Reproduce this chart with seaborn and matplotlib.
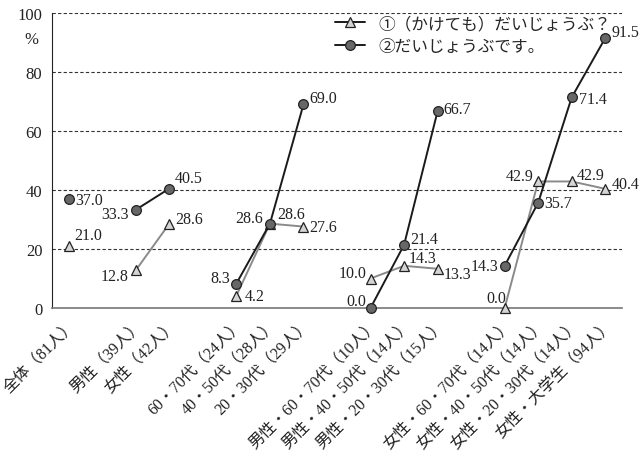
import numpy as np
import pandas as pd
import matplotlib
matplotlib.use("Agg")
import matplotlib.pyplot as plt
from matplotlib.lines import Line2D
import seaborn as sns

# categories (empty strings are the gaps between groups)
categories = ["全体（81人）", "", "男性（39人）", "女性（42人）", "",
              "60・70代（24人）", "40・50代（28人）", "20・30代（29人）", "",
              "男性・60・70代（10人）", "男性・40・50代（14人）", "男性・20・30代（15人）", "",
              "女性・60・70代（14人）", "女性・40・50代（14人）", "女性・20・30代（14人）",
              "女性・大学生（94人）"]
group = [0, -1, 1, 1, -1, 2, 2, 2, -1, 3, 3, 3, -1, 4, 4, 4, 4]

series_names = ["①（かけても）だいじょうぶ？", "②だいじょうぶです。"]
val_kaketemo = [21.0, np.nan, 12.8, 28.6, np.nan, 4.2, 28.6, 27.6, np.nan,
                10.0, 14.3, 13.3, np.nan, 0.0, 42.9, 42.9, 40.4]
val_daijoubu = [37.0, np.nan, 33.3, 40.5, np.nan, 8.3, 28.6, 69.0, np.nan,
                0.0, 21.4, 66.7, np.nan, 14.3, 35.7, 71.4, 91.5]

# label offsets in pixels (dx, dy, ha)
off_kaketemo = [(5, 11, "left"), None, (-7, -6, "right"), (6, 5, "left"), None,
                (8, 0, "left"), (7, 10, "left"), (6, 0, "left"), None,
                (-4, 5, "right"), (5, 8, "left"), (6, -5, "left"), None,
                (2, 10, "right"), (-5, 5, "right"), (5, 6, "left"), (7, 5, "left")]
off_daijoubu = [(6, -1, "left"), None, (-7, -4, "right"), (5, 11, "left"), None,
                (-6, 6, "right"), (-7, 6, "right"), (6, 6, "left"), None,
                (-4, 7, "right"), (6, 6, "left"), (6, 2, "left"), None,
                (-6, 0, "right"), (6, 0, "left"), (7, -2, "left"), (6, 6, "left")]

sns.set_style("white")
plt.rcParams['font.family'] = ['Liberation Serif', 'Noto Sans CJK JP']

x = np.arange(len(categories))
rows = []
for name, vals in zip(series_names, [val_kaketemo, val_daijoubu]):
    for i, v in enumerate(vals):
        if group[i] >= 0:
            rows.append({"x": i, "value": v, "series": name, "group": group[i]})
df = pd.DataFrame(rows)

fig = plt.figure(figsize=(6.39, 4.6), dpi=100)
ax = fig.add_axes([52 / 639, 1 - 309 / 460, 570 / 639, 295 / 460])

styles = {
    series_names[0]: dict(color="#8a8a8a", marker="^", markerfacecolor="#d4d4d4",
                          markeredgecolor="#222222", markersize=7.5, zorder=3),
    series_names[1]: dict(color="#1a1a1a", marker="o", markerfacecolor="#676767",
                          markeredgecolor="#222222", markersize=7, zorder=4),
}
for name in series_names:
    sub = df[df["series"] == name]
    sns.lineplot(data=sub, x="x", y="value", units="group", estimator=None,
                 ax=ax, linewidth=1.4, markeredgewidth=0.9, legend=False,
                 sort=False, clip_on=False, **styles[name])

for vals, offs in [(val_kaketemo, off_kaketemo), (val_daijoubu, off_daijoubu)]:
    for i, v in enumerate(vals):
        if offs[i] is None:
            continue
        dx, dy, ha = offs[i]
        ax.annotate(f"{v:.1f}", (i, v), xytext=(dx, dy), textcoords="offset pixels",
                    ha=ha, va="center", fontsize=11.5, color="#222222", zorder=5)

ax.set_xlim(-0.5, len(categories) - 0.5)
ax.set_ylim(0, 100)
ax.set_yticks([0, 20, 40, 60, 80, 100])
ax.tick_params(axis="y", labelsize=12, length=3, direction="out", color="#222222",
               pad=4, labelcolor="#222222")
for yv in [20, 40, 60, 80, 100]:
    ax.axhline(yv, color="#333333", linestyle=(0, (3, 2)), linewidth=0.8, zorder=1)

ax.set_xticks(np.arange(-0.5, len(categories)), minor=False)
ax.set_xticklabels([])
ax.set_xticks(x, minor=True)
ax.set_xticklabels(categories, minor=True, rotation=45, ha="right",
                   rotation_mode="anchor", fontsize=11.5, color="#222222")
ax.tick_params(axis="x", which="major", length=4, color="#777777", direction="out")
ax.tick_params(axis="x", which="minor", length=0, pad=6)

ax.set_xlabel("")
ax.set_ylabel("")
for s in ["top", "right"]:
    ax.spines[s].set_visible(False)
ax.spines["left"].set_color("#222222")
ax.spines["bottom"].set_color("#777777")
ax.spines["bottom"].set_linewidth(1.2)

fig.text(31 / 639, 1 - 40 / 460, "%", fontsize=12, color="#222222", ha="center", va="center")

handles = [Line2D([], [], linewidth=1.4, markeredgewidth=0.9,
                  **{k: v for k, v in styles[n].items() if k != "zorder"} | {"color": "#1a1a1a"})
           for n in series_names]
ax.legend(handles, series_names, loc="upper left", bbox_to_anchor=(0.47, 1.04),
          frameon=False, fontsize=12, handlelength=1.8, labelspacing=0.4,
          handletextpad=0.8)

fig.savefig("out.png", dpi=100)
